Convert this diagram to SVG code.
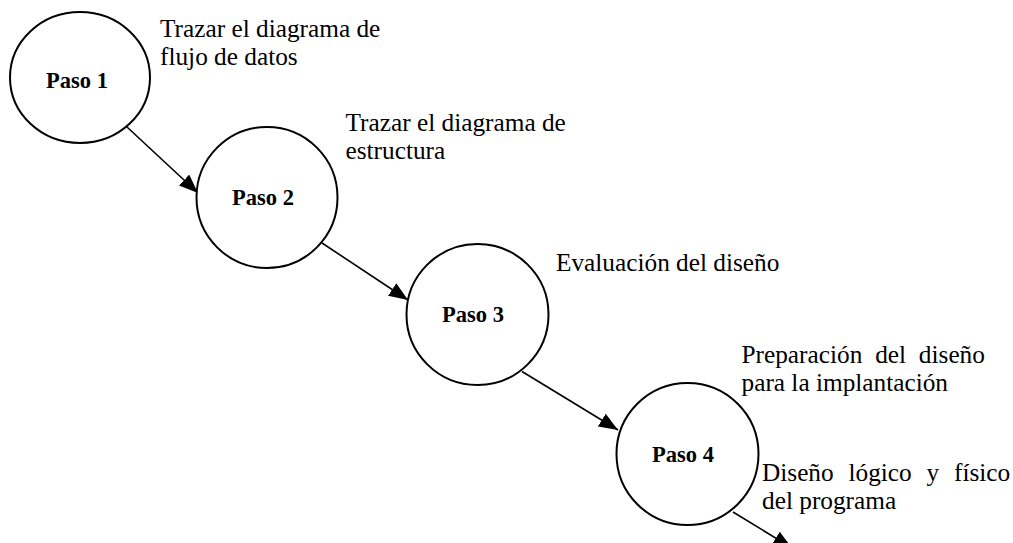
<svg xmlns="http://www.w3.org/2000/svg" width="1013" height="543" viewBox="0 0 1013 543">
<style>
.node{fill:#fff;stroke:#000;stroke-width:2}
.lbl{font-family:'Liberation Serif','Times New Roman',serif;font-size:22.5px;font-weight:bold;fill:#000}
.txt{font-family:'Liberation Serif','Times New Roman',serif;font-size:25.3px;fill:#000}
.edge{stroke:#000;stroke-width:1.6;fill:none;marker-end:url(#ah)}
</style>
<defs>
<marker id="ah" markerWidth="19" markerHeight="15" refX="19" refY="7.5" orient="auto" markerUnits="userSpaceOnUse">
<path d="M0,0 L19,7.5 L0,15 z" fill="#000"/>
</marker>
</defs>
<rect width="1013" height="543" fill="#fff"/>
<g id="connectors">
<line class="edge" x1="127" y1="127" x2="198" y2="193"/>
<line class="edge" x1="322" y1="243" x2="408" y2="300"/>
<line class="edge" x1="522" y1="371.5" x2="618" y2="430"/>
<line class="edge" x1="733" y1="512" x2="792" y2="548"/>
</g>
<g id="paso1">
<ellipse class="node" cx="80" cy="77.5" rx="70" ry="65.5"/>
<text class="lbl" x="46" y="88">Paso 1</text>
</g>
<g id="paso2">
<ellipse class="node" cx="267" cy="197.5" rx="70.5" ry="70.5"/>
<text class="lbl" x="232" y="205">Paso 2</text>
</g>
<g id="paso3">
<ellipse class="node" cx="477.5" cy="314.5" rx="71" ry="70.5"/>
<text class="lbl" x="442" y="321.7">Paso 3</text>
</g>
<g id="paso4">
<ellipse class="node" cx="687.5" cy="454" rx="71" ry="71"/>
<text class="lbl" x="652" y="461.7">Paso 4</text>
</g>
<g id="labels">
<text class="txt" x="160" y="37">Trazar el diagrama de</text>
<text class="txt" x="160" y="65">flujo de datos</text>
<text class="txt" x="345.5" y="131">Trazar el diagrama de</text>
<text class="txt" x="345.5" y="159">estructura</text>
<text class="txt" x="556" y="271">Evaluación del diseño</text>
<text class="txt" x="741.5" y="363" word-spacing="6.5">Preparación del diseño</text>
<text class="txt" x="741.5" y="391">para la implantación</text>
<text class="txt" x="762" y="481" word-spacing="8.5">Diseño lógico y físico</text>
<text class="txt" x="762" y="509">del programa</text>
</g>
</svg>
